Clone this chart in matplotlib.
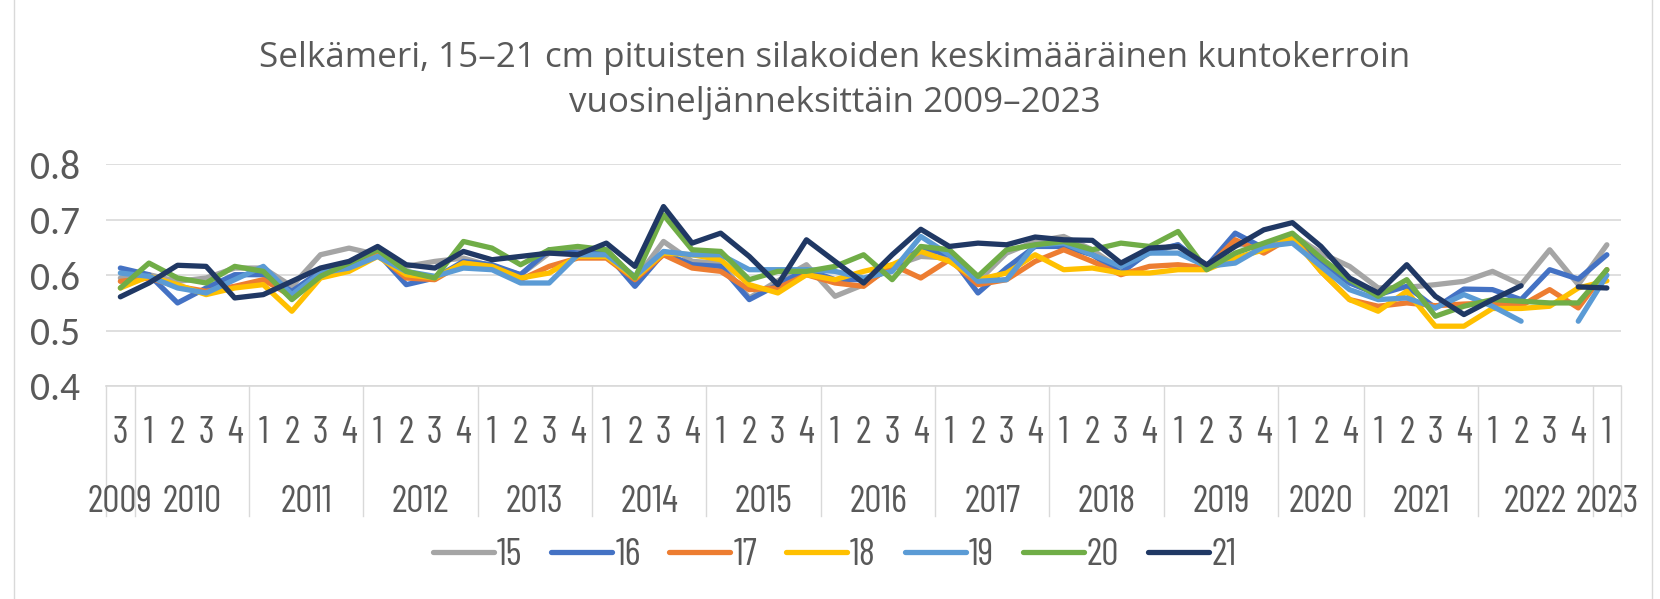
import numpy as np
import matplotlib
matplotlib.use('Agg')
import matplotlib.pyplot as plt
from matplotlib.lines import Line2D
from matplotlib import font_manager

# narrow face for the category axis and legend, Calibri look-alike for the value axis
available = {f.name for f in font_manager.fontManager.ttflist}
NARROW = next((f for f in ['Barlow Condensed', 'Roboto Condensed', 'Asap Condensed',
                           'Liberation Sans Narrow'] if f in available), 'Liberation Sans')
nk = 1.0 if NARROW != 'Liberation Sans' else 0.72
VALFONT = 'Carlito' if 'Carlito' in available else 'Liberation Sans'
vk = 1.0 if VALFONT == 'Carlito' else 0.9
plt.rcParams['font.family'] = [NARROW, 'DejaVu Sans']
NSIZE = 27.5 * nk

nan = np.nan

# category axis: quarters grouped by year
years = ['2009', '2010', '2011', '2012', '2013', '2014', '2015', '2016',
         '2017', '2018', '2019', '2020', '2021', '2022', '2023']
year_quarters = [['3'], ['1', '2', '3', '4'], ['1', '2', '3', '4'], ['1', '2', '3', '4'],
                 ['1', '2', '3', '4'], ['1', '2', '3', '4'], ['1', '2', '3', '4'],
                 ['1', '2', '3', '4'], ['1', '2', '3', '4'], ['1', '2', '3', '4'],
                 ['1', '2', '3', '4'], ['1', '2', '4'], ['1', '2', '3', '4'],
                 ['1', '2', '3', '4'], ['1']]

series_names = ['15', '16', '17', '18', '19', '20', '21']

s15 = [0.595, 0.601, 0.589, 0.595, 0.613, 0.613, 0.580, 0.637, 0.649, 0.637,
       0.616, 0.625, 0.631, 0.616, 0.601, 0.640, 0.643, 0.646, 0.592, 0.661,
       0.625, 0.622, 0.559, 0.590, 0.619, 0.562, 0.583, 0.616, 0.634, 0.631,
       0.589, 0.640, 0.661, 0.670, 0.646, 0.610, 0.640, 0.655, 0.613, 0.655,
       0.655, 0.673, 0.640, 0.616, 0.577, 0.578, 0.583, 0.589, 0.607, 0.583,
       0.646, 0.583, 0.655]
s16 = [0.613, 0.601, 0.550, 0.577, 0.601, 0.601, 0.571, 0.607, 0.616, 0.640,
       0.583, 0.595, 0.625, 0.619, 0.601, 0.646, 0.640, 0.640, 0.580, 0.640,
       0.619, 0.616, 0.556, 0.583, 0.610, 0.592, 0.592, 0.610, 0.649, 0.637,
       0.568, 0.613, 0.652, 0.652, 0.637, 0.604, 0.643, 0.655, 0.616, 0.676,
       0.649, 0.664, 0.622, 0.586, 0.565, 0.580, 0.541, 0.575, 0.574, 0.556,
       0.610, 0.593, 0.637]
s17 = [0.589, 0.595, 0.580, 0.571, 0.580, 0.592, 0.562, 0.604, 0.610, 0.637,
       0.595, 0.592, 0.622, 0.613, 0.592, 0.616, 0.631, 0.631, 0.592, 0.637,
       0.613, 0.607, 0.574, 0.577, 0.601, 0.586, 0.580, 0.619, 0.595, 0.628,
       0.583, 0.592, 0.625, 0.646, 0.625, 0.601, 0.616, 0.619, 0.613, 0.664,
       0.640, 0.670, 0.607, 0.556, 0.544, 0.550, 0.545, 0.548, 0.550, 0.545,
       0.574, 0.541, 0.610]
s18 = [0.577, 0.598, 0.583, 0.565, 0.577, 0.583, 0.535, 0.595, 0.607, 0.634,
       0.601, 0.595, 0.622, 0.616, 0.595, 0.604, 0.634, 0.634, 0.595, 0.640,
       0.637, 0.628, 0.583, 0.568, 0.601, 0.592, 0.607, 0.619, 0.643, 0.625,
       0.592, 0.604, 0.637, 0.610, 0.613, 0.604, 0.604, 0.610, 0.610, 0.631,
       0.646, 0.667, 0.607, 0.556, 0.535, 0.571, 0.508, 0.508, 0.540, 0.540,
       0.544, 0.577, 0.590]
s19 = [0.604, 0.598, 0.577, 0.568, 0.592, 0.616, 0.565, 0.604, 0.613, 0.634,
       0.607, 0.598, 0.613, 0.610, 0.586, 0.586, 0.637, 0.637, 0.598, 0.643,
       0.637, 0.637, 0.610, 0.610, 0.610, 0.607, 0.595, 0.607, 0.670, 0.637,
       0.589, 0.592, 0.655, 0.658, 0.637, 0.616, 0.640, 0.640, 0.616, 0.622,
       0.652, 0.658, 0.616, 0.574, 0.556, 0.559, 0.541, 0.565, 0.544, 0.517,
       nan, 0.517, 0.600]
s20 = [0.577, 0.622, 0.595, 0.586, 0.616, 0.607, 0.556, 0.598, 0.622, 0.646,
       0.607, 0.595, 0.661, 0.649, 0.619, 0.646, 0.652, 0.646, 0.595, 0.709,
       0.646, 0.643, 0.592, 0.607, 0.607, 0.616, 0.637, 0.592, 0.652, 0.646,
       0.598, 0.646, 0.655, 0.661, 0.646, 0.658, 0.652, 0.679, 0.610, 0.640,
       0.658, 0.676, 0.631, 0.592, 0.562, 0.592, 0.526, 0.544, 0.556, 0.553,
       0.550, 0.550, 0.610]
s21 = [0.561, 0.586, 0.618, 0.616, 0.559, 0.565, 0.589, 0.613, 0.625, 0.652,
       0.619, 0.613, 0.643, 0.628, 0.634, 0.640, 0.637, 0.658, 0.616, 0.724,
       0.658, 0.676, 0.634, 0.583, 0.664, 0.625, 0.586, 0.637, 0.683, 0.652,
       0.658, 0.655, 0.669, 0.664, 0.663, 0.622, 0.649, 0.652, 0.619, 0.652,
       0.682, 0.695, 0.652, 0.595, 0.568, 0.619, 0.562, 0.529, 0.556, 0.581,
       nan, 0.579, 0.577]

colors = ['#A5A5A5', '#4472C4', '#ED7D31', '#FFC000', '#5B9BD5', '#70AD47', '#203864']
TEXT = '#595959'
GRID = '#D9D9D9'

quarters = [q for qs in year_quarters for q in qs]
x = np.arange(len(quarters))

fig = plt.figure(figsize=(16.6, 5.99), dpi=100)
ax = fig.add_axes([0.0639, 0.3556, 0.9127, 0.3698])

for name, vals, c in zip(series_names, [s15, s16, s17, s18, s19, s20, s21], colors):
    ax.plot(x, vals, color=c, lw=3.8, label=name,
            solid_joinstyle='round', solid_capstyle='round')

ax.set_xlim(-0.5, len(quarters) - 0.5)
ax.set_ylim(0.4, 0.8)
ax.set_yticks([0.4, 0.5, 0.6, 0.7, 0.8])
ax.set_yticklabels(['0.4', '0.5', '0.6', '0.7', '0.8'], family=[VALFONT, 'DejaVu Sans'])
ax.grid(True, axis='y', color=GRID, lw=1.2)
ax.set_axisbelow(True)
for sp in ['top', 'right', 'left']:
    ax.spines[sp].set_visible(False)
ax.spines['bottom'].set_color(GRID)
ax.spines['bottom'].set_linewidth(1.2)
ax.tick_params(axis='y', length=0, pad=19, labelsize=28.5 * vk, labelcolor=TEXT)

ax.set_xticks(x)
ax.set_xticklabels(quarters)
ax.tick_params(axis='x', length=0, pad=34, labelsize=NSIZE, labelcolor=TEXT)
plt.setp(ax.get_xticklabels(), va='center')

# year row and group separators
trans = ax.get_xaxis_transform()
start = 0
edges = [-0.5]
for yr, qs in zip(years, year_quarters):
    end = start + len(qs)
    ax.text((start + end - 1) / 2, -0.525, yr, transform=trans, ha='center',
            va='center', fontsize=NSIZE, color=TEXT)
    edges.append(end - 0.5)
    start = end
for e in edges:
    ax.plot([e, e], [0, -0.585], transform=trans, color=GRID, lw=1.0, clip_on=False)

fig.text(0.503, 0.866,
         'Selkämeri, 15–21 cm pituisten silakoiden keskimääräinen kuntokerroin\n'
         'vuosineljänneksittäin 2009–2023',
         ha='center', va='center', fontsize=25.2, color=TEXT, linespacing=1.42,
         family=['Open Sans', 'DejaVu Sans'])

fig.legend(loc='center', bbox_to_anchor=(0.503, 0.072), ncol=7, frameon=False,
           prop={'family': [NARROW, 'DejaVu Sans'], 'size': NSIZE},
           handlelength=1.6, handletextpad=0.08, columnspacing=0.75,
           labelcolor=TEXT)

# chart area border
for xf in [14 / 1660, 1652 / 1660]:
    fig.add_artist(Line2D([xf, xf], [0, 1], color=GRID, lw=1.0))

fig.savefig('out.png', dpi=100)
